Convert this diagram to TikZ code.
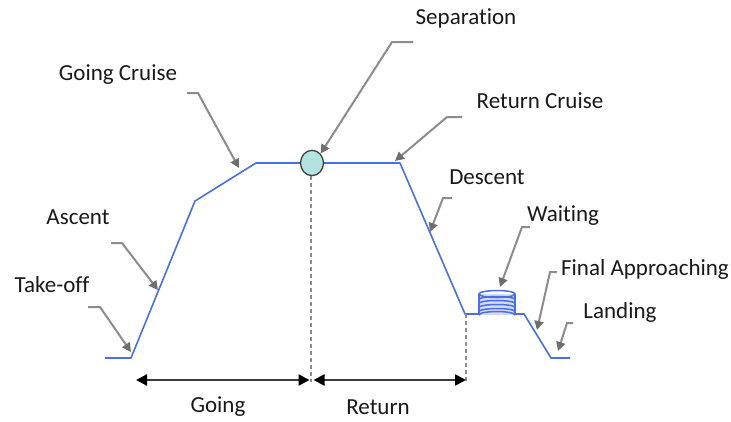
\documentclass[tikz,border=0pt]{standalone}
\usepackage{fontspec}
\setmainfont{Carlito}[Ligatures={NoCommon}]
\usetikzlibrary{arrows.meta}
\definecolor{pathblue}{HTML}{4A6FE3}
\definecolor{leadgray}{HTML}{8C8C8C}
\definecolor{tipgray}{HTML}{6E6E6E}
\definecolor{sepfill}{HTML}{B4E2E2}
\definecolor{dimgray}{HTML}{3C3C3C}
\tikzset{
  lbl/.style={font=\fontsize{23}{26}\selectfont, text=black!90, inner sep=0pt},
  profile/.style={draw=pathblue, line width=1.6pt, line join=round},
  leader/.style={draw=leadgray, line width=2pt, -{Triangle[length=9pt,width=9pt,color=tipgray]}},
  guide/.style={draw=leadgray, line width=1.4pt, dash pattern=on 4pt off 3pt},
  dimarrow/.style={draw=dimgray, line width=2.4pt, {Triangle[length=11pt,width=11pt,color=black]}-{Triangle[length=11pt,width=11pt,color=black]}},
}
\begin{document}
\begin{tikzpicture}[x=1pt,y=-1pt]
\path[use as bounding box, fill=white] (0,0) rectangle (731,421);

% profile coordinates
\coordinate (p0) at (105,358);
\coordinate (p1) at (131,358);
\coordinate (p2) at (195,201);
\coordinate (p3) at (256,163);
\coordinate (p4) at (400,163);
\coordinate (p5) at (465,314);
\coordinate (p6) at (524,314);
\coordinate (p7) at (551,358);
\coordinate (p8) at (570,358);

\draw[profile] (p0) -- (p1) -- (p2) -- (p3) -- (p4) -- (p5) -- (p6) -- (p7) -- (p8);

% guide lines
\coordinate (gs) at (311,176);
\coordinate (ge) at (311,382);
\coordinate (hs) at (466,314);
\coordinate (he) at (466,382);
\draw[guide] (gs) -- (ge);
\draw[guide] (hs) -- (he);

% separation marker
\node[draw=black!75, fill=sepfill, line width=1.3pt, circle, minimum size=23pt, inner sep=0pt, yscale=1.1] (sep) at (312,163) {};

% waiting stack
\begin{scope}[draw=pathblue, line width=1.5pt]
  \fill[pathblue!25] (479,294) rectangle (515,315);
  \fill[pathblue!25] (479,315) arc[start angle=180, end angle=360, x radius=18, y radius=3.5];
  \draw (497,294) ellipse [x radius=18, y radius=3.5];
  \foreach \yy in {299.5,303.5,307.5,311.5} {
    \draw (479,\yy) arc[start angle=180, end angle=360, x radius=18, y radius=3];
  }
  \draw (479,294) -- (479,315);
  \draw (515,294) -- (515,315);
  \draw (479,315) arc[start angle=180, end angle=360, x radius=18, y radius=3.5];
\end{scope}

% dimension arrows
\coordinate (d0) at (136,380);
\coordinate (d1) at (309.5,380);
\coordinate (d2) at (313.5,380);
\coordinate (d3) at (466,380);
\draw[dimarrow] (d0) -- (d1);
\draw[dimarrow] (d2) -- (d3);
\node[lbl] (going) at (218,407) {Going};
\node[lbl] (return) at (378,407) {Return};

% labels
\node[lbl] (sepl) at (466,18) {Separation};
\node[lbl] (gcl) at (118,75) {Going Cruise};
\node[lbl] (rcl) at (540,101) {Return Cruise};
\node[lbl] (desl) at (487,177) {Descent};
\node[lbl] (ascl) at (78,217) {Ascent};
\node[lbl] (waitl) at (563,216) {Waiting};
\node[lbl] (fal) at (645,269) {Final Approaching};
\node[lbl] (tol) at (52,285) {Take-off};
\node[lbl] (landl) at (620,312) {Landing};

% leaders
\coordinate (a1) at (88,307);  \coordinate (a2) at (100,307);  \coordinate (at) at (131,352);
\draw[leader] (a1) -- (a2) -- (at);
\coordinate (b1) at (111,243); \coordinate (b2) at (122,243); \coordinate (bt) at (158,290);
\draw[leader] (b1) -- (b2) -- (bt);
\coordinate (c1) at (187,93);  \coordinate (c2) at (198,93);  \coordinate (ct) at (239,168);
\draw[leader] (c1) -- (c2) -- (ct);
\coordinate (s1) at (413,42);  \coordinate (s2) at (392,42);
\draw[leader] (s1) -- (s2) -- (sep.north east);
\coordinate (r1) at (462,117); \coordinate (r2) at (447,117); \coordinate (rt) at (395,161);
\draw[leader] (r1) -- (r2) -- (rt);
\coordinate (e1) at (452,198); \coordinate (e2) at (443,198); \coordinate (et) at (430,232);
\draw[leader] (e1) -- (e2) -- (et);
\coordinate (w1) at (530,227); \coordinate (w2) at (522,227); \coordinate (wt) at (500,287);
\draw[leader] (w1) -- (w2) -- (wt);
\coordinate (f1) at (557,272); \coordinate (f2) at (550,272); \coordinate (ft) at (537,330);
\draw[leader] (f1) -- (f2) -- (ft);
\coordinate (l1) at (573,323); \coordinate (l2) at (567,323); \coordinate (lt) at (558,351);
\draw[leader] (l1) -- (l2) -- (lt);
\end{tikzpicture}
\end{document}
